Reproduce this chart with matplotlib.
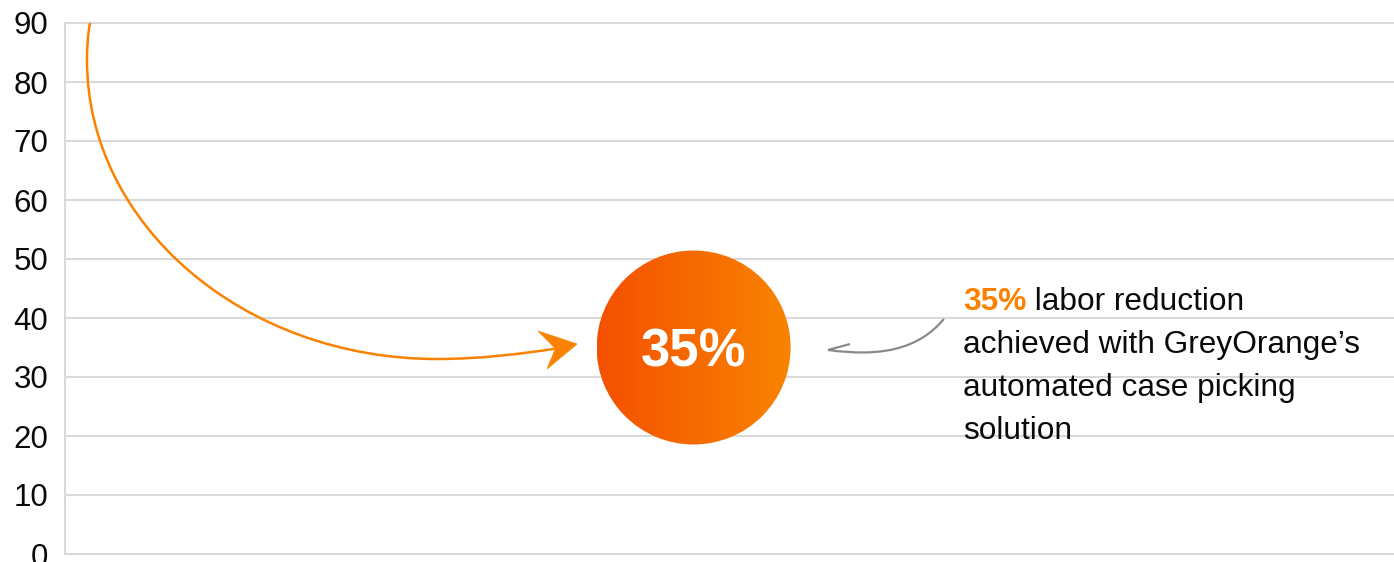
import numpy as np
import matplotlib
matplotlib.use("Agg")
from matplotlib import pyplot as plt
from matplotlib.path import Path
from matplotlib.patches import PathPatch, Circle, Polygon
from matplotlib.transforms import ScaledTranslation
from matplotlib.colors import LinearSegmentedColormap

# values shown on the chart
Y_TICKS     = [0, 10, 20, 30, 40, 50, 60, 70, 80, 90]
REDUCTION   = 35                       # labor reduction in %, badge sits at y = 35
BADGE_LABEL = "35%"
NOTE_HEAD   = "35%"
NOTE_LINES  = [" labor reduction",
               "achieved with GreyOrange\u2019s",
               "automated case picking",
               "solution"]

ORANGE, GRID, GREY = "#fb8200", "#d9d9d9", "#8a8a8a"
GRADIENT           = ["#f45000", "#f98400"]

plt.rcParams['font.family'] = ['Liberation Sans', 'DejaVu Sans']

fig = plt.figure(figsize=(13.94, 5.62), dpi=100)
ax  = fig.add_axes([65/1394, 8/562, 1329/1394, 531/562])

ax.set_yticks(Y_TICKS)
ax.set_xticks([])
ax.tick_params(axis='y', length=0, pad=12, labelsize=22.5, labelcolor='#0a0a0a')
for side in ('top', 'right', 'bottom'):
    ax.spines[side].set_visible(False)
ax.spines['left'].set_color(GRID)
ax.spines['left'].set_linewidth(1.5)
ax.grid(axis='y', color=GRID, lw=1.5)
ax.set_axisbelow(True)

# badge: gradient filled circle at the reduction value
cx    = 47.3
place = fig.dpi_scale_trans + ScaledTranslation(cx, REDUCTION, ax.transData)
badge = Circle((0, 0), 0.97, transform=place, fc='none', ec='none')
ax.add_patch(badge)
cmap = LinearSegmentedColormap.from_list('badge', GRADIENT)
img  = ax.imshow(np.linspace(0, 1, 256)[None, :], cmap=cmap, aspect='auto',
                 extent=(cx - 7.3, cx + 7.3, REDUCTION - 16.5, REDUCTION + 16.5), zorder=3)
img.set_clip_path(badge)
ax.annotate(BADGE_LABEL, (cx, REDUCTION), xytext=(0, -14), textcoords='offset points',
            ha='center', va='baseline', color='white', fontsize=38, fontweight='bold', zorder=4)

ax.set_xlim(0, 100)
ax.set_ylim(0, 90)
for gl in ax.get_ygridlines():
    gl.set_clip_on(False)

# big orange swoosh from the top left into the badge
swoosh = [(1.88, 90.0), (1.71, 87.97), (1.655, 85.76), (1.655, 83.73),
          (1.655, 55.76), (13.47, 33.05), (27.99, 33.05),
          (31.23, 33.05), (34.24, 33.9), (36.9, 34.8)]
codes  = [Path.MOVETO] + [Path.CURVE4] * 9
ax.add_patch(PathPatch(Path(swoosh, codes), fc='none', ec=ORANGE, lw=1.8,
                       capstyle='butt', zorder=3))
ax.add_patch(Polygon([(38.53, 35.59), (35.59, 37.8), (36.9, 34.8), (36.27, 31.36)],
                     closed=True, fc=ORANGE, ec=ORANGE, lw=0.5, zorder=3))

# small grey pointer from the note back to the badge
pointer = [(66.13, 39.83), (64.18, 34.58), (61.32, 33.39), (57.41, 34.58), (59.07, 35.59)]
codes   = [Path.MOVETO, Path.CURVE4, Path.CURVE4, Path.CURVE4, Path.LINETO]
ax.add_patch(PathPatch(Path(pointer, codes), fc='none', ec=GREY, lw=1.6,
                       joinstyle='miter', zorder=3))

# note text
tx, ty, step = 67.57, 41.36, 7.29
head = ax.text(tx, ty, NOTE_HEAD, color=ORANGE, fontsize=22.8, fontweight='bold', va='baseline')
ax.annotate(NOTE_LINES[0], xy=(1, 0), xycoords=head, va='bottom', fontsize=22.8, color='#0a0a0a')
for i, line in enumerate(NOTE_LINES[1:], start=1):
    ax.text(tx, ty - i*step, line, fontsize=22.8, color='#0a0a0a', va='baseline')

fig.savefig("out.png", dpi=100)
